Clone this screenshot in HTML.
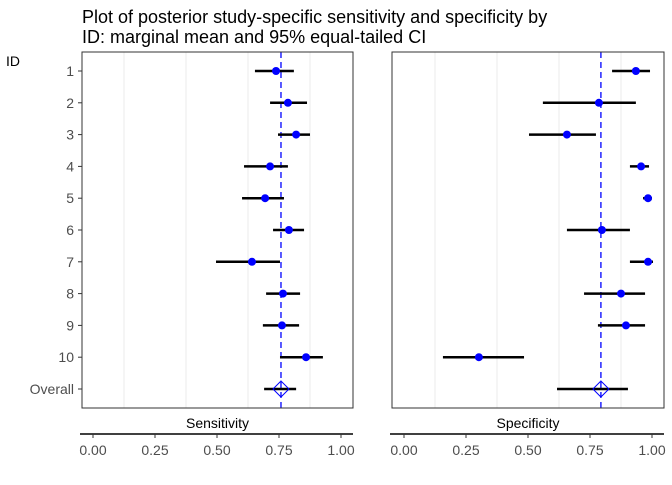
<!DOCTYPE html>
<html><head><meta charset="utf-8"><style>
body{margin:0;background:#fff;font-family:"Liberation Sans",sans-serif}
svg text{font-family:"Liberation Sans",sans-serif}
</style></head><body>
<svg width="672" height="480" xmlns="http://www.w3.org/2000/svg" id="chart">
<rect width="672" height="480" fill="#fff"/>
<text x="82" y="23" font-size="18" fill="#000">Plot of posterior study-specific  sensitivity and specificity by</text>
<text x="82" y="43" font-size="18" fill="#000">ID: marginal mean and 95% equal-tailed CI</text>
<text x="6" y="66" font-size="14" fill="#000">ID</text>
</svg>
<script>
const rowLabels=["1","2","3","4","5","6","7","8","9","10","Overall"];
const sensMean=[0.738,0.786,0.819,0.714,0.694,0.790,0.641,0.766,0.762,0.859,0.758];
const sensLo=[0.653,0.714,0.746,0.609,0.601,0.726,0.496,0.698,0.685,0.754,0.690];
const sensHi=[0.810,0.863,0.875,0.786,0.770,0.851,0.754,0.835,0.831,0.927,0.819];
const specMean=[0.935,0.786,0.657,0.956,0.984,0.798,0.984,0.875,0.895,0.302,0.794];
const specLo=[0.839,0.560,0.504,0.911,0.964,0.657,0.911,0.726,0.782,0.157,0.617];
const specHi=[0.992,0.935,0.774,0.988,1.000,0.911,1.004,0.972,0.972,0.484,0.903];
const tickVals=[0,0.25,0.5,0.75,1];
const tickLabels=["0.00","0.25","0.50","0.75","1.00"];
const gridVals=[0.125,0.375,0.625,0.875];
const panelTitles=["Sensitivity","Specificity"];

const NS="http://www.w3.org/2000/svg";
const svg=document.getElementById('chart');
function mk(tag,attrs,parent){const e=document.createElementNS(NS,tag);for(const k in attrs)e.setAttribute(k,attrs[k]);(parent||svg).appendChild(e);return e;}
const topY=52,bottomY=408;
const yPos=i=>71+i*31.8;
rowLabels.forEach((l,i)=>{
  const t=mk('text',{x:74,y:yPos(i)+5,'font-size':14,fill:'#4d4d4d','text-anchor':'end'});
  t.textContent=l;
  
  
  mk('line',{x1:78,x2:82,y1:yPos(i),y2:yPos(i),stroke:'#333'});
});
const panels=[{left:82,right:353,zero:93,mean:sensMean,lo:sensLo,hi:sensHi},{left:392,right:664,zero:404,mean:specMean,lo:specLo,hi:specHi}];
panels.forEach((p,pi)=>{
  const x=v=>p.zero+v*248;
  const g=mk('g',{});
  
  
  gridVals.forEach(v=>mk('line',{x1:x(v),x2:x(v),y1:topY,y2:bottomY,stroke:'#ebebeb','stroke-width':1},g));
  const ov=p.mean[p.mean.length-1];
  const dl=mk('line',{x1:x(ov),x2:x(ov),y1:topY,y2:bottomY,stroke:'#0000ff','stroke-width':1.3,'stroke-dasharray':'6,4'},g);
  
  
  p.mean.forEach((m,i)=>{
    const ln=mk('line',{x1:x(p.lo[i]),x2:x(p.hi[i]),y1:yPos(i),y2:yPos(i),stroke:'#000','stroke-width':2.5},g);
    
    
    if(i<p.mean.length-1){
      const c=mk('circle',{cx:x(m),cy:yPos(i),r:4,fill:'#0000ff'},g);
      
      
    }else{
      const d=mk('polygon',{points:`${x(m)},${yPos(i)-8} ${x(m)+8},${yPos(i)} ${x(m)},${yPos(i)+8} ${x(m)-8},${yPos(i)}`,fill:'none',stroke:'#0000ff','stroke-width':1},g);
      
      
    }
  });
  mk('rect',{x:p.left,y:topY,width:p.right-p.left,height:bottomY-topY,fill:'none',stroke:'#333','stroke-width':1},g);
  const tt=mk('text',{x:(p.left+p.right)/2,y:428,'font-size':14,fill:'#000','text-anchor':'middle'});
  tt.textContent=panelTitles[pi];
  
  
  const ax=mk('line',{x1:p.left-2,x2:p.right,y1:434,y2:434,stroke:'#000','stroke-width':1.5});
  
  
  tickVals.forEach((v,k)=>{
    mk('line',{x1:x(v),x2:x(v),y1:434,y2:438,stroke:'#333'});
    const t=mk('text',{x:x(v),y:455,'font-size':14,fill:'#4d4d4d','text-anchor':'middle'});
    t.textContent=tickLabels[k];
    
    
  });
});
</script>
</body></html>
